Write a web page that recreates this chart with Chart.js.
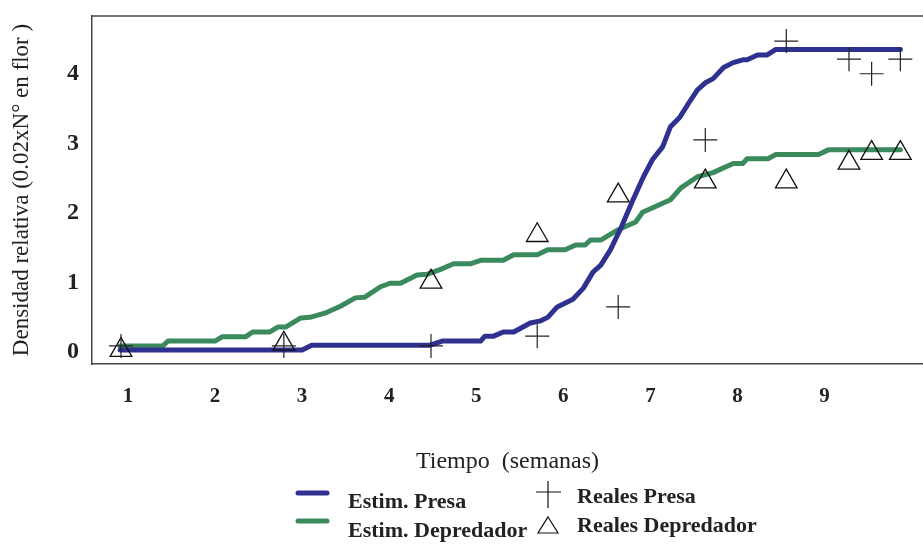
<!DOCTYPE html>
<html>
<head>
<meta charset="utf-8">
<script src="https://cdn.jsdelivr.net/npm/chart.js@4.4.1/dist/chart.umd.min.js"></script>
<style>
  html, body { margin: 0; padding: 0; background: #fff; overflow: hidden; }
  canvas { display: block; }
</style>
</head>
<body>
<canvas id="grafico" width="923" height="544"></canvas>
<script>
// Curva estimada de la presa (semanas, densidad)
const presaEstX = [0.91, 3.00, 3.11, 4.47, 4.61, 5.05, 5.10, 5.20, 5.31, 5.43, 5.62, 5.74, 5.82, 5.93, 6.11, 6.23, 6.34, 6.43, 6.54, 6.66,
  6.80, 6.92, 7.02, 7.14, 7.23, 7.34, 7.44, 7.54, 7.63, 7.72, 7.84, 7.95, 8.06, 8.11, 8.23, 8.34, 8.44, 9.87];
const presaEstY = [0.03, 0.03, 0.10, 0.10, 0.16, 0.16, 0.23, 0.23, 0.29, 0.29, 0.42, 0.45, 0.50, 0.65, 0.76, 0.92, 1.15, 1.25, 1.47, 1.78,
  2.19, 2.52, 2.76, 2.95, 3.24, 3.38, 3.58, 3.77, 3.87, 3.93, 4.09, 4.16, 4.20, 4.20, 4.27, 4.27, 4.35, 4.35];

// Curva estimada del depredador
const depEstX = [0.91, 1.40, 1.46, 2.00, 2.08, 2.35, 2.43, 2.63, 2.72, 2.81, 2.98, 3.09, 3.26, 3.44, 3.61, 3.72, 3.90, 4.01, 4.13, 4.32,
  4.44, 4.59, 4.74, 4.93, 5.05, 5.31, 5.43, 5.70, 5.82, 6.02, 6.14, 6.25, 6.31, 6.43, 6.63, 6.83, 6.91, 7.23, 7.35, 7.54,
  7.72, 7.95, 8.06, 8.11, 8.35, 8.44, 8.93, 9.05, 9.87];
const depEstY = [0.09, 0.09, 0.16, 0.16, 0.22, 0.22, 0.29, 0.29, 0.36, 0.36, 0.49, 0.50, 0.56, 0.66, 0.78, 0.79, 0.94, 0.99, 0.99, 1.11,
  1.12, 1.19, 1.27, 1.27, 1.32, 1.32, 1.40, 1.40, 1.47, 1.47, 1.54, 1.54, 1.61, 1.61, 1.76, 1.87, 2.01, 2.19, 2.36, 2.52,
  2.58, 2.71, 2.71, 2.78, 2.78, 2.84, 2.84, 2.91, 2.91];

// Datos reales (muestreos)
const realesX = [0.92, 2.79, 4.48, 5.70, 6.63, 7.63, 8.56, 9.28, 9.54, 9.87];
const realesPresa = [0.09, 0.09, 0.09, 0.23, 0.65, 3.05, 4.47, 4.21, 4.00, 4.21];
const realesDepredador = [0.03, 0.12, 1.01, 1.68, 2.25, 2.45, 2.45, 2.72, 2.86, 2.86];

const xTicks = [1, 2, 3, 4, 5, 6, 7, 8, 9];
const yTicks = [0, 1, 2, 3, 4];

const azul = '#2e3190';
const verde = '#3b8a5e';
const serif = '"Liberation Serif", "Times New Roman", serif';

const puntos = (xs, ys) => xs.map((x, i) => ({ x: x, y: ys[i] }));

// Marco superior + leyenda a mano
const extras = {
  id: 'extras',
  afterDraw(chart) {
    const ctx = chart.ctx;
    const a = chart.chartArea;
    ctx.save();
    ctx.strokeStyle = '#444';
    ctx.lineWidth = 1.5;
    ctx.beginPath();
    ctx.moveTo(a.left, a.top);
    ctx.lineTo(chart.width, a.top);
    ctx.stroke();

    // lineas de leyenda
    ctx.lineCap = 'round';
    ctx.lineWidth = 5;
    ctx.strokeStyle = azul;
    ctx.beginPath(); ctx.moveTo(298, 493); ctx.lineTo(327, 493); ctx.stroke();
    ctx.strokeStyle = verde;
    ctx.beginPath(); ctx.moveTo(298, 521); ctx.lineTo(327, 521); ctx.stroke();

    // cruz y triangulo
    ctx.lineCap = 'butt';
    ctx.lineWidth = 1.2;
    ctx.strokeStyle = '#111';
    ctx.beginPath();
    ctx.moveTo(536, 492); ctx.lineTo(561, 492);
    ctx.moveTo(548, 481); ctx.lineTo(548, 508);
    ctx.stroke();
    ctx.beginPath();
    ctx.moveTo(548, 517); ctx.lineTo(558, 533); ctx.lineTo(538, 533); ctx.closePath();
    ctx.stroke();

    ctx.fillStyle = '#222';
    ctx.font = 'bold 22px ' + serif;
    ctx.textBaseline = 'middle';
    ctx.textAlign = 'left';
    ctx.fillText('Estim. Presa', 348, 502);
    ctx.fillText('Estim. Depredador', 348, 531);
    ctx.fillText('Reales Presa', 577, 497);
    ctx.fillText('Reales Depredador', 577, 526);
    ctx.restore();
  }
};

new Chart(document.getElementById('grafico'), {
  type: 'scatter',
  data: {
    datasets: [
      {
        label: 'Reales Presa',
        data: puntos(realesX, realesPresa),
        pointStyle: 'cross',
        pointRadius: 12,
        borderColor: '#222',
        borderWidth: 1.2,
        showLine: false,
        order: 0
      },
      {
        label: 'Reales Depredador',
        data: puntos(realesX, realesDepredador),
        pointStyle: 'triangle',
        pointRadius: 12.5,
        borderColor: '#111',
        backgroundColor: 'rgba(0,0,0,0)',
        borderWidth: 1.3,
        showLine: false,
        order: 0
      },
      {
        label: 'Estim. Presa',
        data: puntos(presaEstX, presaEstY),
        showLine: true,
        borderColor: azul,
        borderWidth: 5,
        pointRadius: 0,
        borderCapStyle: 'round',
        borderJoinStyle: 'round',
        order: 1
      },
      {
        label: 'Estim. Depredador',
        data: puntos(depEstX, depEstY),
        showLine: true,
        borderColor: verde,
        borderWidth: 5,
        pointRadius: 0,
        borderCapStyle: 'round',
        borderJoinStyle: 'round',
        order: 1
      }
    ]
  },
  options: {
    responsive: false,
    animation: false,
    devicePixelRatio: 1,
    layout: { autoPadding: false, padding: { top: 16, right: 0, bottom: 0, left: 0 } },
    plugins: {
      legend: { display: false },
      tooltip: { enabled: false }
    },
    elements: { line: { tension: 0 } },
    scales: {
      x: {
        type: 'linear',
        min: 0.587,
        max: 10.13,
        afterBuildTicks: s => { s.ticks = xTicks.map(v => ({ value: v })); },
        afterFit: s => { s.height = 180; s.paddingLeft = 0; s.paddingRight = 0; },
        grid: { display: false, drawTicks: false },
        border: { display: true, color: '#444', width: 1.5 },
        ticks: {
          color: '#222',
          padding: 20,
          maxRotation: 0,
          font: { family: serif, size: 21, weight: 'bold' }
        },
        title: {
          display: true,
          text: 'Tiempo  (semanas)',
          color: '#222',
          font: { family: serif, size: 24 },
          padding: { top: 0, bottom: 68 }
        }
      },
      y: {
        type: 'linear',
        min: -0.17,
        max: 4.83,
        afterBuildTicks: s => { s.ticks = yTicks.map(v => ({ value: v })); },
        afterFit: s => { s.width = 92; s.paddingTop = 0; s.paddingBottom = 0; },
        grid: { display: false, drawTicks: false },
        border: { display: true, color: '#444', width: 1.5 },
        ticks: {
          color: '#222',
          padding: 13,
          font: { family: serif, size: 24, weight: 'bold' }
        },
        title: {
          display: true,
          text: 'Densidad relativa (0.02xN° en flor )',
          color: '#222',
          font: { family: serif, size: 23 },
          padding: { top: 8, bottom: 0 }
        }
      }
    }
  },
  plugins: [extras]
});
</script>
</body>
</html>
